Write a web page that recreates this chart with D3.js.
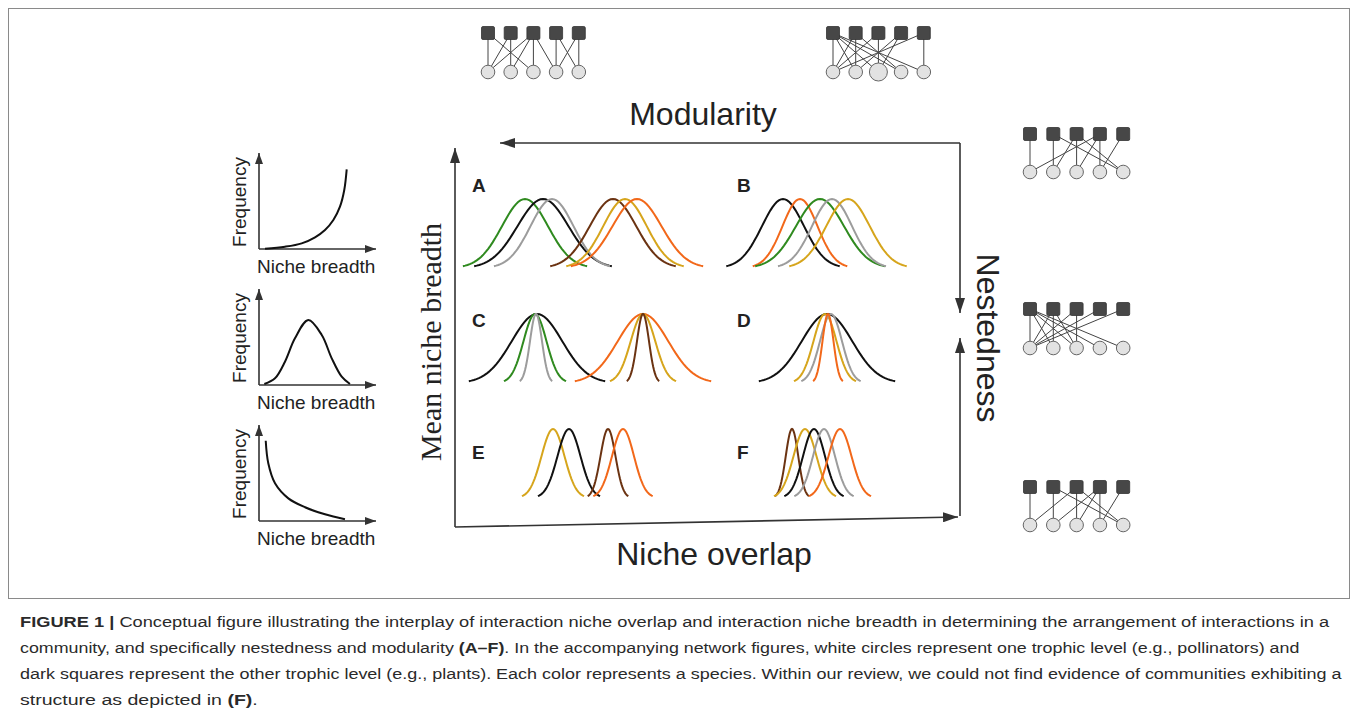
<!DOCTYPE html>
<head>
  <meta charset="utf-8">
  <script src="https://d3js.org/d3.v7.min.js"></script>
  <style>
    body { margin: 0; background: #fff; }
    svg { width: 1358px; height: 716px; display: block; }
    text { font-family: "Liberation Sans", Arial, sans-serif; fill: #222; }
  </style>
</head>

<body>
  <svg></svg>

  <script>
    // species colours used in the niche panels
    const speciesColours = {
      green: '#2f8a1f', black: '#111111', grey: '#9c9c9c',
      brown: '#6b3312', yellow: '#d6a51c', orange: '#f2681a'
    };

    // niche curves per panel: [species, niche centre, niche width] on a 0-100 niche axis
    const curvesA = [['green', 28, 9.2], ['black', 35.2, 10.2], ['grey', 38.8, 8.6],
                     ['brown', 63.2, 9.3], ['yellow', 68, 8.7], ['orange', 72.8, 9.8]];
    const curvesB = [['black', 25.2, 8.4], ['orange', 32, 7.0], ['green', 40, 9.6],
                     ['grey', 44.8, 8.0], ['yellow', 51.2, 8.7]];
    const curvesC = [['black', 32.8, 10.1], ['green', 32, 4.6], ['grey', 32.4, 2.4],
                     ['orange', 75.2, 10.1], ['yellow', 75.2, 4.9], ['brown', 75.2, 2.4]];
    const curvesD = [['black', 42.8, 10.1], ['yellow', 42, 4.6], ['grey', 44.4, 4.4],
                     ['orange', 43.2, 2.2]];
    const curvesE = [['yellow', 39.2, 4.6], ['black', 45.6, 4.6], ['brown', 61.2, 3.0],
                     ['orange', 67.2, 4.4]];
    const curvesF = [['brown', 28.8, 2.5], ['yellow', 34, 4.6], ['black', 37.6, 4.4],
                     ['grey', 41.6, 4.4], ['orange', 48, 4.6]];
    const panelLabels = ['A', 'B', 'C', 'D', 'E', 'F'];
    const panelCurves = [curvesA, curvesB, curvesC, curvesD, curvesE, curvesF];

    const breadthRising = [[0.52, 0.03], [2.24, 0.24], [3.68, 0.59], [4.83, 1.22], [5.69, 1.98],
                           [6.41, 3.02], [6.98, 4.41], [7.35, 6.15], [7.56, 8.30]];
    const breadthBell = [[0.46, 0.10], [1.38, 0.70], [2.24, 2.43], [3.10, 4.86], [4.25, 6.77],
                         [5.41, 5.21], [6.27, 2.78], [7.13, 0.86], [7.84, 0.10]];
    const breadthFalling = [[0.58, 8.36], [0.80, 6.01], [1.38, 3.93], [2.53, 2.36], [3.97, 1.43],
                            [5.69, 0.70], [7.41, 0.18]];

    // bipartite networks: [square (plant), circle (pollinator)] links
    const linksModular = [[0,0],[0,2],[1,0],[1,1],[2,0],[2,1],[2,2],[2,3],[3,3],[3,4],[4,3],[4,4]];
    const linksMixed = [[0,0],[0,1],[0,2],[0,3],[0,4],[1,0],[1,1],[1,3],[2,0],[2,2],[3,1],[3,2],[4,0],[4,4]];
    const linksRightTop = [[0,0],[1,1],[1,4],[2,1],[2,2],[2,4],[3,0],[3,2],[3,3],[4,3]];
    const linksNested = [[0,0],[0,1],[0,2],[0,3],[0,4],[1,0],[1,1],[1,2],[2,0],[2,2],[3,0],[4,0]];
    const linksRightBottom = [[0,0],[1,1],[1,4],[2,0],[2,2],[2,4],[3,1],[3,2],[3,3],[4,3]];

    const captionLines = [
      [['FIGURE 1 | ', true], ['Conceptual figure illustrating the interplay of interaction niche overlap and interaction niche breadth in determining the arrangement of interactions in a', false]],
      [['community, and specifically nestedness and modularity ', false], ['(A–F)', true], ['. In the accompanying network figures, white circles represent one trophic level (e.g., pollinators) and', false]],
      [['dark squares represent the other trophic level (e.g., plants). Each color represents a species. Within our review, we could not find evidence of communities exhibiting a', false]],
      [['structure as depicted in ', false], ['(F)', true], ['.', false]]
    ];
    const captionWidths = [1310, 1280, 1323, 238];

    const svg = d3.select('svg');

    // figure frame
    svg.append('rect')
      .attr('x', 8.5).attr('y', 8.5).attr('width', 1341).attr('height', 590)
      .attr('fill', 'none').attr('stroke', '#8a8a8a').attr('stroke-width', 1);

    // arrow heads
    const defs = svg.append('defs');
    function marker(id, len, wid) {
      defs.append('marker')
        .attr('id', id).attr('markerUnits', 'userSpaceOnUse')
        .attr('viewBox', `0 ${-wid / 2} ${len} ${wid}`)
        .attr('refX', len).attr('refY', 0)
        .attr('markerWidth', len).attr('markerHeight', wid)
        .attr('orient', 'auto')
        .append('path')
        .attr('d', `M0,${-wid / 2}L${len},0L0,${wid / 2}Z`)
        .attr('fill', '#333');
    }
    marker('bigArrow', 15, 10);
    marker('smallArrow', 11, 8);

    function arrow(x1, y1, x2, y2, m) {
      svg.append('line')
        .attr('x1', x1).attr('y1', y1).attr('x2', x2).attr('y2', y2)
        .attr('stroke', '#333').attr('stroke-width', 1.6)
        .attr('marker-end', `url(#${m})`);
    }

    /*****************************************************
    ** central frame: axes and labels
    ******************************************************/
    arrow(960, 143, 500, 143, 'bigArrow');
    arrow(960, 143, 960, 313, 'bigArrow');
    arrow(960, 516, 960, 338, 'bigArrow');
    arrow(455, 527, 455, 148, 'bigArrow');
    arrow(455, 527, 958, 517, 'bigArrow');

    svg.append('text').attr('x', 703).attr('y', 125)
      .attr('text-anchor', 'middle').attr('font-size', 32).text('Modularity');
    svg.append('text').attr('x', 714).attr('y', 565)
      .attr('text-anchor', 'middle').attr('font-size', 32).text('Niche overlap');
    svg.append('text').attr('transform', 'translate(977,338)rotate(90)')
      .attr('text-anchor', 'middle').attr('font-size', 32).text('Nestedness');
    svg.append('text').attr('transform', 'translate(441,342)rotate(-90)')
      .attr('text-anchor', 'middle').attr('font-size', 30)
      .style('font-family', '"Liberation Serif", "Times New Roman", serif')
      .text('Mean niche breadth');

    /*****************************************************
    ** niche panels A-F
    ******************************************************/
    const colLeft = [455, 720];
    const rowBase = [268, 383, 498];
    const curveHeight = 69;
    const labelBase = [192, 327, 459];

    panelCurves.forEach((curves, i) => {
      const col = i % 2, row = Math.floor(i / 2);
      const x = d3.scaleLinear().domain([0, 100]).range([colLeft[col], colLeft[col] + 250]);
      const y = d3.scaleLinear().domain([0, 1]).range([rowBase[row], rowBase[row] - curveHeight]);
      const line = d3.line().x(d => x(d[0])).y(d => y(d[1]));

      svg.append('text')
        .attr('x', colLeft[col] + 17).attr('y', labelBase[row])
        .attr('font-size', 19).attr('font-weight', 'bold')
        .text(panelLabels[i]);

      svg.append('g').selectAll('path')
        .data(curves).enter().append('path')
        .attr('d', c => {
          const pts = d3.range(-2.7, 2.701, 0.1).map(t => [c[1] + t * c[2], Math.exp(-t * t / 2)]);
          return line(pts);
        })
        .attr('fill', 'none')
        .attr('stroke', c => speciesColours[c[0]])
        .attr('stroke-width', 2);
    });

    /*****************************************************
    ** niche breadth distributions (left)
    ******************************************************/
    const smallOrigins = [249, 385, 521];
    [breadthRising, breadthBell, breadthFalling].forEach((pts, i) => {
      const oy = smallOrigins[i];
      const x = d3.scaleLinear().domain([0, 10]).range([259, 375]);
      const y = d3.scaleLinear().domain([0, 10]).range([oy, oy - 96]);
      arrow(259, oy, 259, oy - 96, 'smallArrow');
      arrow(259, oy, 376, oy, 'smallArrow');
      svg.append('path')
        .attr('d', d3.line().curve(d3.curveCatmullRom).x(d => x(d[0])).y(d => y(d[1]))(pts))
        .attr('fill', 'none').attr('stroke', '#111').attr('stroke-width', 2);
      svg.append('text').attr('x', 257).attr('y', oy + 24)
        .attr('font-size', 19).text('Niche breadth');
      svg.append('text').attr('transform', `translate(246,${oy - 47})rotate(-90)`)
        .attr('text-anchor', 'middle').attr('font-size', 19).text('Frequency');
    });

    /*****************************************************
    ** network sketches
    ******************************************************/
    const networkLayout = [
      { links: linksModular, x0: 488, ySq: 33, yCi: 72, gap: 22.7, big: -1 },
      { links: linksMixed, x0: 833, ySq: 33, yCi: 72, gap: 22.7, big: 2 },
      { links: linksRightTop, x0: 1030, ySq: 134, yCi: 172, gap: 23.3, big: -1 },
      { links: linksNested, x0: 1030, ySq: 309, yCi: 348, gap: 23.3, big: -1 },
      { links: linksRightBottom, x0: 1030, ySq: 487, yCi: 525, gap: 23.3, big: -1 }
    ];

    networkLayout.forEach(net => {
      const nx = d3.scaleLinear().domain([0, 4]).range([net.x0, net.x0 + 4 * net.gap]);
      const g = svg.append('g');
      g.selectAll('line')
        .data(net.links).enter().append('line')
        .attr('x1', d => nx(d[0])).attr('y1', net.ySq)
        .attr('x2', d => nx(d[1])).attr('y2', net.yCi)
        .attr('stroke', '#444').attr('stroke-width', 1);
      g.selectAll('circle')
        .data(d3.range(5)).enter().append('circle')
        .attr('cx', d => nx(d)).attr('cy', net.yCi)
        .attr('r', d => d === net.big ? 9 : 6.8)
        .attr('fill', '#e2e2e2').attr('stroke', '#666').attr('stroke-width', 1);
      g.selectAll('rect')
        .data(d3.range(5)).enter().append('rect')
        .attr('x', d => nx(d) - 6.5).attr('y', net.ySq - 6.5)
        .attr('width', 13).attr('height', 13).attr('rx', 1.5)
        .attr('fill', '#474747').attr('stroke', '#333').attr('stroke-width', 0.8);
    });

    /*****************************************************
    ** caption
    ******************************************************/
    captionLines.forEach((parts, i) => {
      const t = svg.append('text')
        .attr('font-size', 15.5).style('fill', '#2a2a2a');
      parts.forEach(p => {
        t.append('tspan').attr('font-weight', p[1] ? 'bold' : 'normal').text(p[0]);
      });
      const len = t.node().getComputedTextLength();
      t.attr('transform', `translate(20,${627 + i * 26})scale(${captionWidths[i] / len},1)`);
    });
  </script>
</body>
